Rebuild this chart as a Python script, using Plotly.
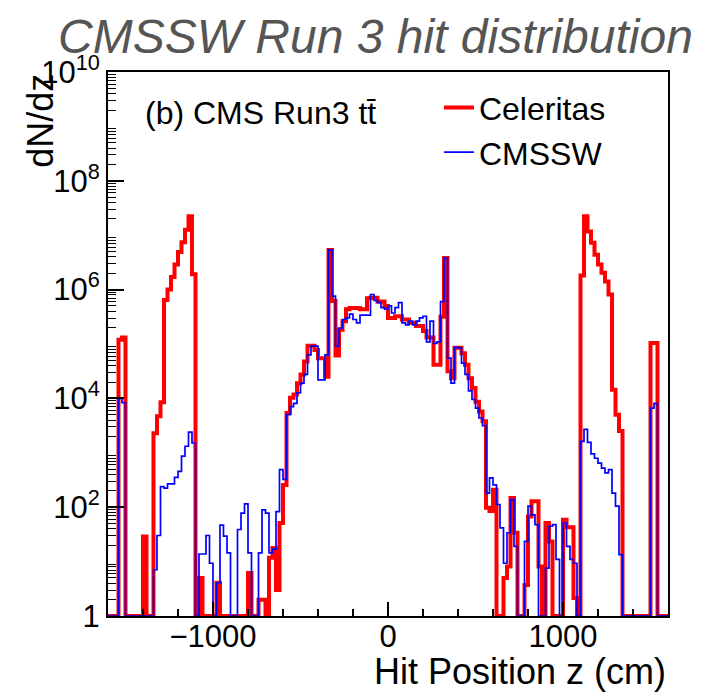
import numpy as np
import plotly.graph_objects as go

# ---------------- data ----------------
# Histogram binning: 160 bins of 20 cm from -1600 to 1600 cm
z_min, z_max, n_bins = -1600.0, 1600.0, 160

# log10(dN/dz) per bin; 0 means empty (drawn on the axis floor)
celeritas_log10 = [
    0, 0, 0, 5.08, 5.12, 0, 0, 0, 0, 0,
    1.46, 0, 0, 3.36, 3.67, 3.93, 5.81, 6.00, 6.23, 6.46,
    6.69, 6.87, 7.10, 7.35, 6.28, 0, 0.70, 0, 0, 0,
    0, 0.61, 0, 0, 0, 0, 0, 0, 0, 0,
    0.79, 0, 0, 0.30, 0.30, 0, 1.07, 1.25, 0.48, 1.71,
    2.41, 3.73, 4.01, 4.07, 4.28, 4.44, 4.68, 4.97, 4.97, 4.89,
    4.74, 4.74, 4.40, 6.73, 5.79, 4.79, 5.26, 5.42, 5.64, 5.66,
    5.66, 5.66, 5.64, 5.64, 5.84, 5.85, 5.85, 5.78, 5.78, 5.70,
    5.48, 5.48, 5.51, 5.51, 5.45, 5.45, 5.39, 5.39, 5.33, 5.33,
    5.24, 5.12, 5.12, 4.62, 4.62, 5.50, 6.58, 4.50, 4.37, 4.93,
    4.93, 4.83, 4.62, 4.37, 4.19, 3.94, 3.76, 3.58, 1.99, 1.93,
    2.32, 0, 0, 0.70, 0.91, 2.17, 1.53, 0, 0, 0.57,
    1.83, 2.11, 2.11, 0.91, 0, 1.71, 1.37, 0, 0, 0,
    1.77, 1.63, 1.63, 0.33, 0, 6.26, 7.35, 7.07, 6.86, 6.64,
    6.46, 6.31, 6.15, 5.91, 4.16, 3.70, 3.40, 0, 0, 0,
    0, 0, 0, 0, 0, 5.02, 5.02, 0, 0, 0,
]

cmssw_log10 = [
    0, 0, 0, 4.00, 3.92, 0, 0, 0, 0, 0,
    0, 0, 0, 0.85, 1.48, 2.38, 2.35, 2.43, 2.43, 2.55,
    2.66, 2.94, 3.12, 3.38, 3.18, 0, 1.14, 1.14, 1.48, 0.97,
    0, 0.61, 1.67, 1.47, 1.16, 0, 0, 1.59, 1.89, 2.06,
    1.16, 0, 0, 1.16, 1.95, 1.89, 1.16, 1.23, 1.92, 2.69,
    2.51, 3.70, 3.85, 3.91, 4.10, 4.28, 4.44, 4.80, 4.96, 4.96,
    4.34, 4.34, 4.80, 6.73, 5.88, 4.96, 5.29, 5.45, 5.48, 5.55,
    5.45, 5.39, 5.53, 5.53, 5.53, 5.91, 5.80, 5.76, 5.67, 5.64,
    5.70, 5.57, 5.67, 5.76, 5.39, 5.35, 5.42, 5.35, 5.42, 5.48,
    5.51, 5.04, 5.42, 5.01, 5.04, 5.78, 6.58, 4.74, 4.28, 4.94,
    4.93, 4.65, 4.44, 4.14, 3.98, 3.82, 3.64, 3.50, 2.26, 2.54,
    2.41, 2.05, 1.62, 0.97, 1.53, 2.14, 1.28, 0, 0, 1.37,
    2.02, 1.86, 1.68, 0, 0, 0.88, 1.65, 1.68, 1.04, 0,
    1.71, 1.28, 1.04, 0.97, 0, 3.21, 3.43, 3.19, 2.98, 2.90,
    2.81, 2.72, 2.63, 2.69, 2.26, 2.02, 1.13, 0, 0, 0,
    0, 0, 0, 0, 0, 3.82, 3.91, 0, 0, 0,
]

series_names = ["Celeritas", "CMSSW"]
x_tick_vals = [-1000, 0, 1000]
x_tick_text = ["\u22121000", "0", "1000"]
x_minor_step = 200
y_labelled_decades = [0, 2, 4, 6, 8, 10]
y_tick_text = ["1", "10<sup>2</sup>", "10<sup>4</sup>", "10<sup>6</sup>", "10<sup>8</sup>", "10<sup>10</sup>"]
y_unlabelled_decades = [1, 3, 5, 7, 9]

title_text = "CMSSW Run 3 hit distribution"
label_text = "(b) CMS Run3 tt\u0304"
x_title = "Hit Position z (cm)"
y_title = "dN/dz"

# ---------------- figure ----------------
FONT = "Liberation Sans, Arial, Helvetica, sans-serif"
edges = np.linspace(z_min, z_max, n_bins + 1)


def step_y(vals):
    y = [10.0 ** v for v in vals]
    return y + [y[-1]]


fig = go.Figure()
styles = [("#ff0000", 4.0), ("#0000ff", 1.7)]
for name, vals, (color, width) in zip(series_names, [celeritas_log10, cmssw_log10], styles):
    fig.add_trace(go.Scatter(
        x=edges, y=step_y(vals), mode="lines", name=name,
        line=dict(color=color, width=width, shape="hv"),
        legendgroup=name,
    ))

x_minor = [v for v in np.arange(z_min, z_max + 1, x_minor_step) if v not in x_tick_vals]
y_major = [10.0 ** e for e in y_labelled_decades]
y_major_odd = [10.0 ** e for e in y_unlabelled_decades]
y_minor = [k * 10.0 ** e for e in range(0, 10) for k in range(2, 10)]

fig.update_layout(
    xaxis=dict(
        range=[z_min, z_max], showgrid=False, zeroline=False,
        showline=True, linecolor="black", linewidth=2, mirror=True,
        tickmode="array", tickvals=x_tick_vals, ticktext=x_tick_text,
        ticks="inside", ticklen=14, tickwidth=1.5, tickcolor="black",
        tickfont=dict(family=FONT, size=31, color="black"),
        ticklabelstandoff=-8,
        minor=dict(tickmode="array", tickvals=x_minor, ticks="inside",
                   ticklen=7, tickwidth=1.5, tickcolor="black", showgrid=False),
    ),
    yaxis=dict(
        type="log", range=[0, 10], showgrid=False, zeroline=False,
        showline=True, linecolor="black", linewidth=2, mirror=True,
        tickmode="array", tickvals=y_major, ticktext=y_tick_text,
        ticks="inside", ticklen=16, tickwidth=1.5, tickcolor="black",
        tickfont=dict(family=FONT, size=31, color="black"),
        minor=dict(tickmode="array", tickvals=y_minor, ticks="inside",
                   ticklen=8, tickwidth=1.2, tickcolor="black", showgrid=False),
    ),
    yaxis2=dict(
        type="log", range=[0, 10], overlaying="y", anchor="x", side="left",
        showgrid=False, zeroline=False, showline=False,
        tickmode="array", tickvals=y_major_odd, showticklabels=False,
        ticks="inside", ticklen=16, tickwidth=1.5, tickcolor="black",
    ),
    width=717, height=694,
    margin=dict(l=100, r=57, t=64, b=86),
    plot_bgcolor="white", paper_bgcolor="white",
    font=dict(family=FONT, color="black"),
    showlegend=True,
    legend=dict(
        x=0.591, y=0.985, xanchor="left", yanchor="top",
        bgcolor="rgba(0,0,0,0)", borderwidth=0,
        font=dict(family=FONT, size=32, color="black"),
        itemwidth=30, traceorder="grouped", tracegroupgap=0,
    ),
    annotations=[
        dict(text=title_text, xref="paper", yref="paper", x=-0.093, y=1.066,
             xanchor="left", yanchor="middle", showarrow=False,
             font=dict(family=FONT, size=48, color="#555555", style="italic")),
        dict(text=label_text, xref="paper", yref="paper", x=0.0625, y=0.9246,
             xanchor="left", yanchor="middle", showarrow=False,
             font=dict(family=FONT, size=32, color="black")),
        dict(text=x_title, xref="paper", yref="paper", x=1.0, y=-0.1029,
             xanchor="right", yanchor="middle", showarrow=False,
             font=dict(family=FONT, size=36, color="black")),
        dict(text=y_title, xref="paper", yref="paper", x=-0.122, y=1.0,
             xanchor="center", yanchor="top", textangle=-90, showarrow=False,
             font=dict(family=FONT, size=36, color="black")),
    ],
)

fig.write_html("out.html")
